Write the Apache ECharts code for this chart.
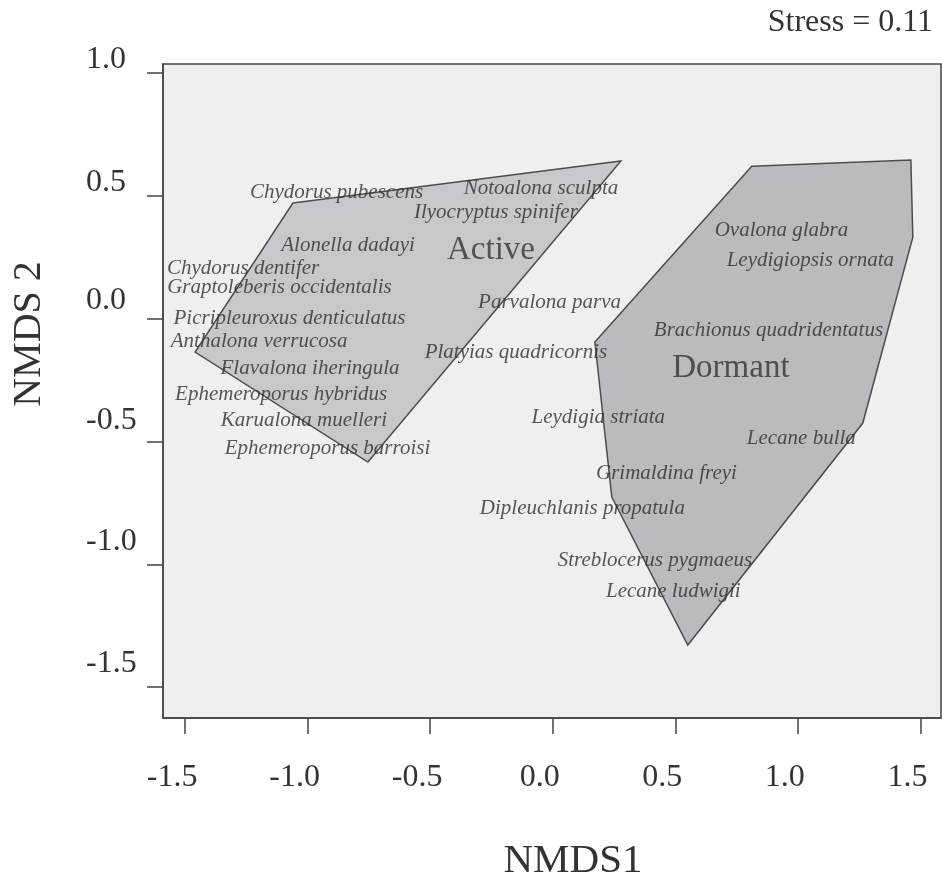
<!DOCTYPE html>
<html>
<head>
<meta charset="utf-8">
<title>NMDS Active / Dormant</title>
<script src="https://cdn.jsdelivr.net/npm/echarts@6/dist/echarts.min.js"></script>
<style>
  html, body { margin: 0; padding: 0; background: #fff; }
  #chart { width: 942px; height: 882px; }
</style>
</head>
<body>
<div id="chart"></div>
<script>
// convex hulls (NMDS1, NMDS2)
var activeHull = [[-1.060, 0.471], [0.278, 0.642], [-0.754, -0.584], [-1.459, -0.136]];
var dormantHull = [[0.812, 0.621], [1.461, 0.646], [1.469, 0.332], [1.265, -0.425],
                   [0.551, -1.329], [0.241, -0.726], [0.172, -0.095]];

// species scores
var speciesNames = [
  'Chydorus pubescens', 'Notoalona sculpta', 'Ilyocryptus spinifer', 'Alonella dadayi',
  'Chydorus dentifer', 'Graptoleberis occidentalis', 'Picripleuroxus denticulatus',
  'Anthalona verrucosa', 'Flavalona iheringula', 'Ephemeroporus hybridus',
  'Karualona muelleri', 'Ephemeroporus barroisi', 'Parvalona parva', 'Platyias quadricornis',
  'Ovalona glabra', 'Leydigiopsis ornata', 'Brachionus quadridentatus', 'Lecane bulla',
  'Leydigia striata', 'Grimaldina freyi', 'Dipleuchlanis propatula',
  'Streblocerus pygmaeus', 'Lecane ludwigii'
];
var speciesX = [-0.882, -0.048, -0.232, -0.835, -1.263, -1.115, -1.074, -1.198, -0.990, -1.108,
                -1.015, -0.919, -0.013, -0.150, 0.933, 1.051, 0.880, 1.014, 0.186, 0.464,
                0.121, 0.417, 0.492];
var speciesY = [0.515, 0.532, 0.434, 0.300, 0.206, 0.125, 0.002, -0.091, -0.201, -0.307,
                -0.413, -0.527, 0.064, -0.136, 0.361, 0.235, -0.050, -0.486, -0.401, -0.629,
                -0.771, -0.983, -1.109];

// group labels
var groupNames = ['Active', 'Dormant'];
var groupX = [-0.252, 0.727];
var groupY = [0.279, -0.201];

var tickValues = [-1.5, -1.0, -0.5, 0.0, 0.5, 1.0, 1.5];
var tickLabels = ['-1.5', '-1.0', '-0.5', '0.0', '0.5', '1.0', '1.5'];

var serif = '"Liberation Serif", "Times New Roman", serif';
var ink = '#444';

function tickText(v) {
  var i = tickValues.indexOf(v);
  return i >= 0 ? tickLabels[i] : v.toFixed(1);
}

// y labels sit a little above their ticks in the original (more so lower down)
var yLift = [23, 23, 21, 18, 13, 13];
var yRich = {};
yLift.forEach(function (h, i) {
  yRich['y' + i] = { fontFamily: serif, fontSize: 32, color: '#333', lineHeight: h * 2 };
});

function hullSeries(name, hull, fill) {
  return {
    type: 'custom',
    name: name,
    data: [[0, 0]],
    silent: true,
    z: 1,
    renderItem: function (params, api) {
      var pts = hull.map(function (p) { return api.coord(p); });
      return {
        type: 'polygon',
        shape: { points: pts },
        style: { fill: fill, stroke: '#4d4d4d', lineWidth: 1.5 }
      };
    }
  };
}

var myChart = echarts.init(document.getElementById('chart'));

var option = {
  animation: false,
  backgroundColor: '#fff',
  grid: {
    left: 163, right: 1, top: 64, bottom: 164,
    show: true,
    backgroundColor: '#efefef',
    borderColor: ink,
    borderWidth: 1.5,
    outerBoundsMode: 'none'
  },
  xAxis: {
    type: 'value',
    min: -1.59, max: 1.584,
    splitLine: { show: false },
    axisLine: { show: true, onZero: false, lineStyle: { color: ink, width: 1.5 } },
    axisTick: { show: true, length: 16, customValues: tickValues, lineStyle: { color: ink, width: 1.5 } },
    axisLabel: {
      customValues: tickValues,
      formatter: tickText,
      fontFamily: serif, fontSize: 32, color: '#333',
      margin: 60, verticalAlign: 'middle',
      padding: [0, 26, 0, 0]
    }
  },
  yAxis: {
    type: 'value',
    min: -1.626, max: 1.037,
    splitLine: { show: false },
    axisLine: { show: true, onZero: false, lineStyle: { color: ink, width: 1.5 } },
    axisTick: { show: true, length: 16, customValues: tickValues.slice(0, 6), lineStyle: { color: ink, width: 1.5 } },
    axisLabel: {
      customValues: tickValues.slice(0, 6),
      formatter: function (v) {
        var i = tickValues.indexOf(v);
        return '{y' + i + '|' + tickText(v) + '}';
      },
      rich: yRich,
      fontFamily: serif, fontSize: 32, color: '#333',
      margin: 77, align: 'left', verticalAlign: 'bottom'
    }
  },
  series: [
    hullSeries('Active', activeHull, '#c6c8cb'),
    hullSeries('Dormant', dormantHull, '#b9bbbe'),
    {
      type: 'scatter',
      name: 'species',
      symbolSize: 1,
      itemStyle: { color: 'rgba(0,0,0,0)' },
      z: 3,
      silent: true,
      data: speciesNames.map(function (n, i) {
        return { name: n, value: [speciesX[i], speciesY[i]] };
      }),
      label: {
        show: true, position: 'inside', formatter: '{b}',
        fontFamily: serif, fontStyle: 'italic', fontSize: 21, color: '#2e2e2e'
      }
    },
    {
      type: 'scatter',
      name: 'groups',
      symbolSize: 1,
      itemStyle: { color: 'rgba(0,0,0,0)' },
      z: 3,
      silent: true,
      data: groupNames.map(function (n, i) {
        return { name: n, value: [groupX[i], groupY[i]] };
      }),
      label: {
        show: true, position: 'inside', formatter: '{b}',
        fontFamily: serif, fontSize: 33, color: '#333'
      }
    }
  ],
  graphic: [
    {
      type: 'text', x: 933, y: 23,
      style: { text: 'Stress = 0.11', align: 'right', verticalAlign: 'middle',
               fontFamily: serif, fontSize: 32, fill: '#333' }
    },
    {
      type: 'text', x: 573, y: 861,
      style: { text: 'NMDS1', align: 'center', verticalAlign: 'middle',
               fontFamily: serif, fontSize: 41, fill: '#333' }
    },
    {
      type: 'text', x: 29, y: 334, rotation: Math.PI / 2,
      style: { text: 'NMDS 2', align: 'center', verticalAlign: 'middle',
               fontFamily: serif, fontSize: 40, fill: '#333' }
    }
  ]
};

myChart.setOption(option);
</script>
</body>
</html>
